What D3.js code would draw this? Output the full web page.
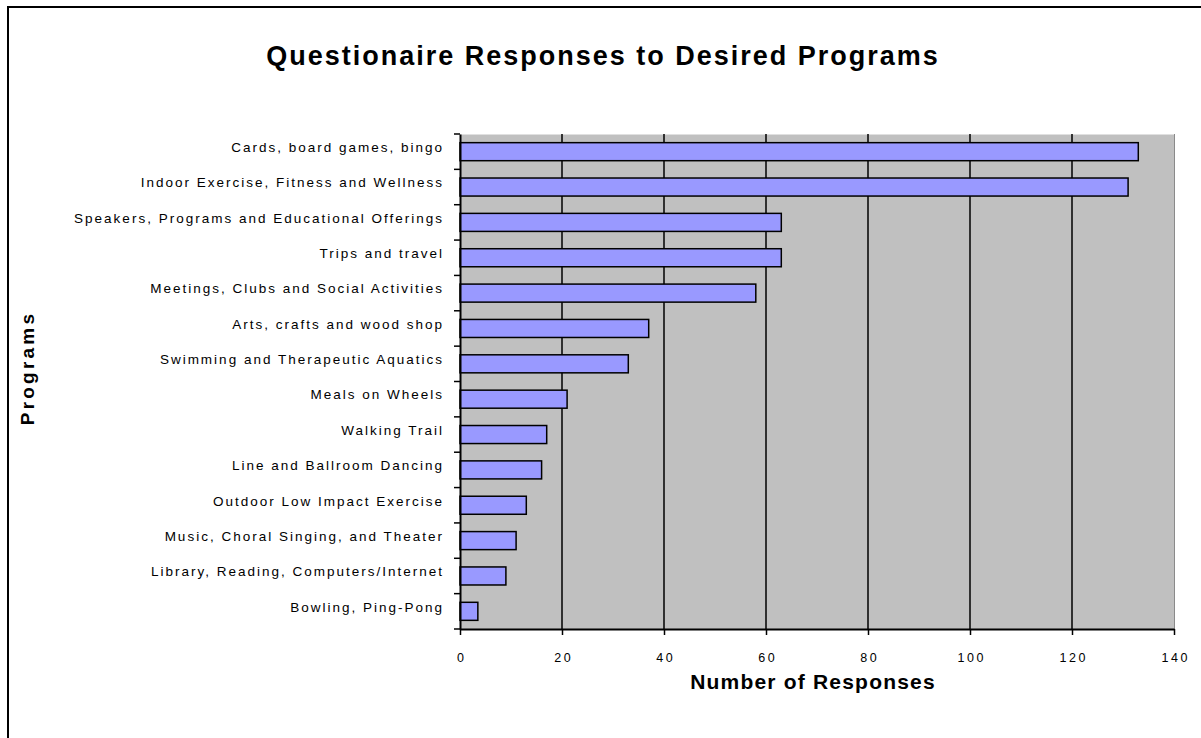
<!DOCTYPE html>
<html><head><meta charset="utf-8">
<script src="https://cdn.jsdelivr.net/npm/d3@7"></script>
<style>body{margin:0;background:#fff;} svg{display:block;}</style>
</head><body>
<script>
const categories = [
  "Cards, board games, bingo",
  "Indoor Exercise, Fitness and Wellness",
  "Speakers, Programs and Educational Offerings",
  "Trips and travel",
  "Meetings, Clubs and Social Activities",
  "Arts, crafts and wood shop",
  "Swimming and Therapeutic Aquatics",
  "Meals on Wheels",
  "Walking Trail",
  "Line and Ballroom Dancing",
  "Outdoor Low Impact Exercise",
  "Music, Choral Singing, and Theater",
  "Library, Reading, Computers/Internet",
  "Bowling, Ping-Pong"
];
const responses = [133, 131, 63, 63, 58, 37, 33, 21, 17, 16, 13, 11, 9, 3.5];
const xTicks = [0, 20, 40, 60, 80, 100, 120, 140];
const title = "Questionaire Responses to Desired Programs";
const xTitle = "Number of Responses";
const yTitle = "Programs";

const W = 1201, H = 738;
const FONT = "Liberation Sans, Arial, sans-serif";
const svg = d3.select("body").append("svg").attr("width", W).attr("height", H);
svg.append("rect").attr("width", W).attr("height", H).attr("fill", "#fff");
// outer frame
svg.append("path").attr("d", "M8,740 L8,7 L1203,7").attr("fill", "none").attr("stroke", "#000").attr("stroke-width", 2);

const plot = {left: 460, top: 134, right: 1174, bottom: 629};
const x = d3.scaleLinear().domain([0, 140]).range([plot.left, plot.right]);
const y = d3.scaleBand().domain(categories).range([plot.top, plot.bottom]).paddingInner(0.49).paddingOuter(0.245);
const yb = d3.scaleBand().domain(categories).range([plot.top, plot.bottom]);

// plot background
svg.append("rect").attr("x", plot.left).attr("y", plot.top).attr("width", plot.right - plot.left)
  .attr("height", plot.bottom - plot.top).attr("fill", "#C0C0C0");
svg.append("line").attr("x1", plot.left).attr("x2", plot.right).attr("y1", plot.top + 0.5).attr("y2", plot.top + 0.5).attr("stroke", "#e0e0e0");
svg.append("line").attr("x1", plot.right + 0.5).attr("x2", plot.right + 0.5).attr("y1", plot.top).attr("y2", plot.bottom).attr("stroke", "#8a8a8a");

// gridlines
svg.append("g").selectAll("line").data(xTicks.filter(d => d > 0 && d < 140)).join("line")
  .attr("x1", d => x(d)).attr("x2", d => x(d)).attr("y1", plot.top).attr("y2", plot.bottom)
  .attr("stroke", "#000").attr("stroke-width", 1.5);

// bars
svg.append("g").selectAll("rect").data(categories).join("rect")
  .attr("x", x(0)).attr("y", (d) => y(d))
  .attr("width", (d, i) => x(responses[i]) - x(0)).attr("height", y.bandwidth())
  .attr("fill", "#9999FF").attr("stroke", "#000").attr("stroke-width", 1.5);

// x axis
const xAxis = svg.append("g").attr("transform", `translate(0,${plot.bottom})`)
  .call(d3.axisBottom(x).tickValues(xTicks).tickSize(6).tickSizeOuter(0).tickPadding(18));
xAxis.select(".domain").attr("stroke", "#000").attr("stroke-width", 2);
xAxis.selectAll(".tick line").attr("stroke", "#000").attr("stroke-width", 1.5);
xAxis.selectAll("text").attr("font-family", FONT).attr("font-size", 12.5)
  .attr("fill", "#000").attr("letter-spacing", "2.5px").attr("dx", "1.2px");

// y axis
const yAxis = svg.append("g").attr("transform", `translate(${plot.left},0)`)
  .call(d3.axisLeft(yb).tickSize(0).tickPadding(16));
yAxis.select(".domain").attr("stroke", "#000").attr("stroke-width", 2);
yAxis.selectAll("text").attr("font-family", FONT).attr("font-size", 13.5)
  .attr("fill", "#000").attr("letter-spacing", "2.0px").attr("dy", "0.02em");
// band-boundary ticks
const bounds = categories.map(c => yb(c)).concat([plot.bottom]);
svg.append("g").selectAll("line").data(bounds).join("line")
  .attr("x1", plot.left - 6).attr("x2", plot.left).attr("y1", d => d).attr("y2", d => d)
  .attr("stroke", "#000").attr("stroke-width", 1.5);

// titles
svg.append("text").attr("x", 603).attr("y", 65).attr("text-anchor", "middle")
  .attr("font-family", FONT).attr("font-size", 27).attr("font-weight", "bold")
  .attr("letter-spacing", "2.0px")
  .text(title);
svg.append("text").attr("x", 813).attr("y", 689).attr("text-anchor", "middle")
  .attr("font-family", FONT).attr("font-size", 21).attr("font-weight", "bold")
  .attr("letter-spacing", "1.2px")
  .text(xTitle);
svg.append("text").attr("transform", "translate(34,368) rotate(-90)").attr("text-anchor", "middle")
  .attr("font-family", FONT).attr("font-size", 19).attr("font-weight", "bold")
  .attr("letter-spacing", "3.2px")
  .text(yTitle);
</script>
</body></html>
